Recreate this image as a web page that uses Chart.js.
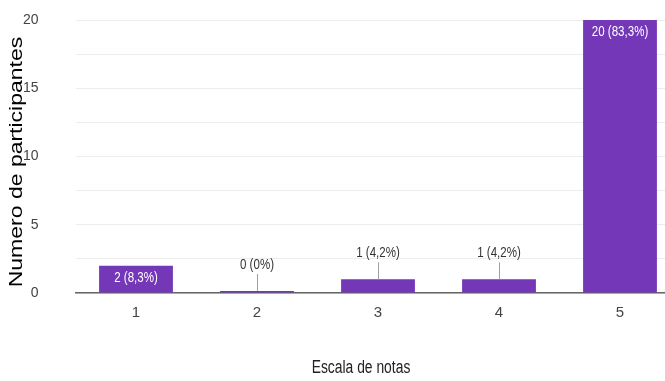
<!DOCTYPE html>
<html>
<head>
<meta charset="utf-8">
<script src="https://cdn.jsdelivr.net/npm/chart.js@4/dist/chart.umd.min.js"></script>
<style>
html,body{margin:0;padding:0;background:#fff;overflow:hidden;}
#wrap{position:absolute;left:0;top:0;width:700px;height:381px;}
</style>
</head>
<body>
<div id="wrap"><canvas id="c" width="700" height="381"></canvas></div>
<script>
const categories = ['1', '2', '3', '4', '5'];
const counts = [2, 0, 1, 1, 20];
const labels = ['2 (8,3%)', '0 (0%)', '1 (4,2%)', '1 (4,2%)', '20 (83,3%)'];
const insideBar = [true, false, false, false, true];
const yTicks = [0, 5, 10, 15, 20];
const xTitle = 'Escala de notas';
const yTitle = 'Numero de participantes';

const SANS = "'Liberation Sans', Arial, sans-serif";
const SQUEEZE = 0.77;

function squeezedText(ctx, text, x, y) {
  ctx.save();
  ctx.translate(x, y);
  ctx.scale(SQUEEZE, 1);
  ctx.fillText(text, 0, 0);
  ctx.restore();
}

const labelPlugin = {
  id: 'barLabels',
  afterDatasetsDraw(chart) {
    const ctx = chart.ctx;
    const meta = chart.getDatasetMeta(0);
    const base = chart.scales.y.getPixelForValue(0);
    ctx.save();
    ctx.font = '15px ' + SANS;
    ctx.textAlign = 'center';
    ctx.textBaseline = 'middle';
    meta.data.forEach((bar, i) => {
      const x = bar.x;
      const top = Math.min(bar.y, base);
      if (insideBar[i]) {
        ctx.fillStyle = '#ffffff';
        squeezedText(ctx, labels[i], x, top + 12);
      } else {
        const ty = top - 26;
        ctx.strokeStyle = '#a0a0a0';
        ctx.lineWidth = 1;
        ctx.beginPath();
        ctx.moveTo(Math.round(x) + 0.5, top);
        ctx.lineTo(Math.round(x) + 0.5, ty + 9);
        ctx.stroke();
        ctx.fillStyle = '#333333';
        squeezedText(ctx, labels[i], x, ty);
      }
    });
    // x axis title
    ctx.font = '18px ' + SANS;
    ctx.fillStyle = '#222222';
    squeezedText(ctx, xTitle, 361, 368);
    // y axis title
    ctx.font = '23px ' + SANS;
    ctx.fillStyle = '#000000';
    ctx.translate(17, 162);
    ctx.scale(0.82, 1);
    ctx.rotate(-Math.PI / 2);
    ctx.fillText(yTitle, 0, 0);
    ctx.restore();
  }
};

new Chart(document.getElementById('c'), {
  type: 'bar',
  data: {
    labels: categories,
    datasets: [{
      data: counts,
      backgroundColor: '#7337b7',
      borderWidth: 0,
      categoryPercentage: 1,
      barPercentage: 0.61,
      minBarLength: 2
    }]
  },
  options: {
    responsive: false,
    animation: false,
    events: [],
    layout: { padding: { left: 4, right: 19.5, top: 20, bottom: 2 } },
    plugins: { legend: { display: false }, tooltip: { enabled: false } },
    scales: {
      x: {
        offset: true,
        afterFit(s) { s.height = 86; s.paddingLeft = 0; s.paddingRight = 0; },
        grid: { display: false, drawTicks: false },
        border: { display: true, color: '#666666', width: 1.5 },
        ticks: { color: '#444444', font: { family: SANS, size: 15 }, padding: 11 }
      },
      y: {
        min: 0, max: 20,
        afterBuildTicks(axis) {
          const t = [];
          for (let v = 0; v <= 20; v += 2.5) t.push({ value: v });
          axis.ticks = t;
        },
        afterFit(s) { s.width = 71.5; s.paddingTop = 0; s.paddingBottom = 0; },
        grid: { color: '#ececec', drawTicks: false, lineWidth: 1 },
        border: { display: false },
        ticks: {
          color: '#444444', font: { family: SANS, size: 14 }, padding: 37,
          callback: (v) => yTicks.includes(v) ? String(v) : ''
        }
      }
    }
  },
  plugins: [labelPlugin]
});
</script>
</body>
</html>
